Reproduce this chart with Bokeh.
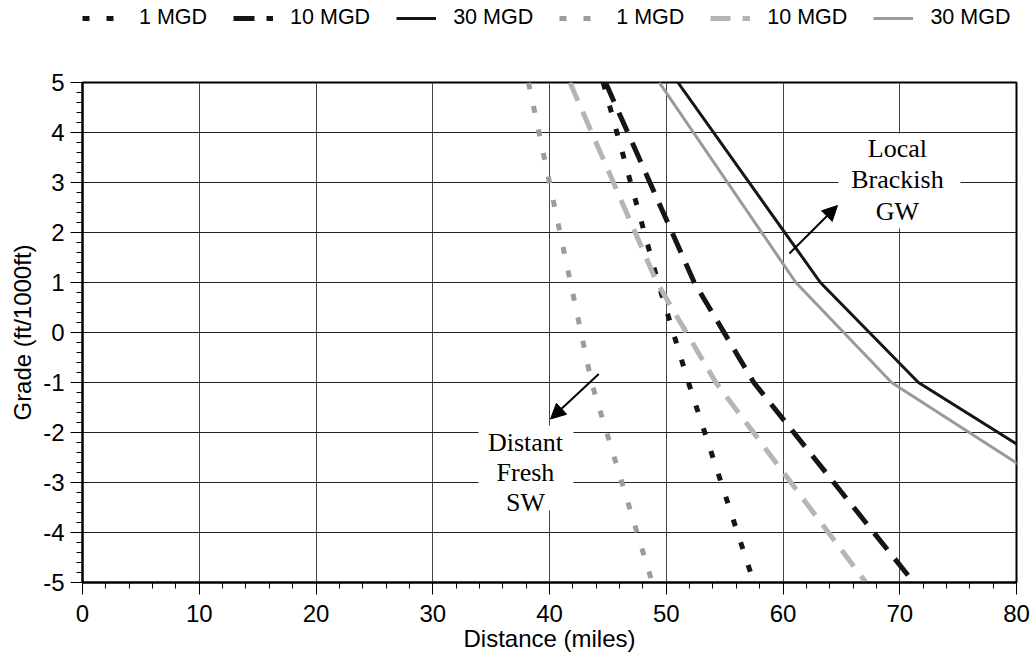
from bokeh.plotting import figure
from bokeh.layouts import column
from bokeh.models import (Range1d, FixedTicker, Legend, LegendItem, BoxAnnotation,
                          Label, Arrow, NormalHead)
from bokeh.embed import file_html
from bokeh.resources import INLINE

# ---- data (distance in miles at a given grade, ft/1000ft) ----
grade = [5, 1, -1, -5]
gw_1mgd = [44.6, 49.3, 51.9, 57.5]     # Local Brackish GW (black)
gw_10mgd = [44.8, 52.4, 57.5, 71.2]
gw_30mgd = [51.0, 63.2, 71.6, 98.9]
sw_1mgd = [38.2, 41.8, 43.6, 48.8]     # Distant Fresh SW (grey)
sw_10mgd = [41.75, 49.2, 54.25, 67.1]
sw_30mgd = [49.4, 61.1, 69.3, 95.9]
labels = ["1 MGD", "10 MGD", "30 MGD", "1 MGD", "10 MGD", "30 MGD"]
x_ticks = [0, 10, 20, 30, 40, 50, 60, 70, 80]
y_ticks = [-5, -4, -3, -2, -1, 0, 1, 2, 3, 4, 5]

FONT = "Liberation Sans"
SERIF = "Liberation Serif"

BLACK = "#151515"
GREY_DOT = "#9c9c9c"
GREY_DASH = "#b5b5b5"
GREY_SOLID = "#9a9a9a"
styles = [
    dict(line_color=BLACK, line_width=5, line_dash="7 17"),
    dict(line_color=BLACK, line_width=5, line_dash="21 12"),
    dict(line_color=BLACK, line_width=3),
    dict(line_color=GREY_DOT, line_width=5, line_dash="7 17"),
    dict(line_color=GREY_DASH, line_width=5, line_dash="20 12"),
    dict(line_color=GREY_SOLID, line_width=3),
]
series = [gw_1mgd, gw_10mgd, gw_30mgd, sw_1mgd, sw_10mgd, sw_30mgd]

LEG_H = 40
p = figure(width=1030, height=662 - LEG_H, x_range=Range1d(0, 80), y_range=Range1d(-5, 5),
           output_backend="svg", toolbar_location=None,
           min_border_left=82, min_border_right=14, min_border_top=82 - LEG_H,
           min_border_bottom=80)
p.background_fill_color = "white"
p.border_fill_color = "white"
p.outline_line_color = "black"
p.outline_line_width = 2

p.xaxis.ticker = FixedTicker(ticks=x_ticks, minor_ticks=list(range(0, 81, 2)))
p.yaxis.ticker = FixedTicker(ticks=y_ticks, minor_ticks=[i / 5 for i in range(-25, 26)])
p.xaxis.major_label_overrides = {t: str(t) for t in x_ticks}
p.yaxis.major_label_overrides = {t: str(t) for t in y_ticks}
for ax in (p.xaxis[0], p.yaxis[0]):
    ax.axis_line_color = "black"
    ax.axis_line_width = 2
    ax.major_tick_line_color = "black"
    ax.minor_tick_line_color = "black"
    ax.major_tick_out = 12
    ax.major_tick_in = 0
    ax.minor_tick_out = 6
    ax.minor_tick_in = 0
    ax.major_label_text_font = FONT
    ax.major_label_text_font_size = "24px"
    ax.major_label_text_color = "black"
    ax.axis_label_text_font = FONT
    ax.axis_label_text_font_size = "24px"
    ax.axis_label_text_font_style = "normal"
    ax.axis_label_text_color = "black"
p.xaxis.axis_label = "Distance (miles)"
p.yaxis.axis_label = "Grade (ft/1000ft)"
p.xaxis.major_label_standoff = 10
p.xaxis.axis_label_standoff = 0
p.yaxis.major_label_standoff = 6
p.yaxis.axis_label_standoff = 4

p.xgrid.grid_line_color = "#444444"
p.ygrid.grid_line_color = "#222222"
p.xgrid.grid_line_width = 1
p.ygrid.grid_line_width = 1

# white boxes behind annotation texts
p.add_layout(BoxAnnotation(left=64.75, right=75.2, bottom=2.08, top=3.98,
                           fill_color="white", fill_alpha=1, line_color=None, level="underlay"))
p.add_layout(BoxAnnotation(left=33.92, right=42.05, bottom=-3.56, top=-1.86,
                           fill_color="white", fill_alpha=1, line_color=None, level="underlay"))

for xs, st in zip(series, styles):
    p.line(xs, grade, **st)

# legend strip above the chart (same series and line styles; data lie outside this strip's range)
pl = figure(width=1030, height=LEG_H, x_range=Range1d(0, 1), y_range=Range1d(0, 1),
            output_backend="svg", toolbar_location=None, x_axis_type=None, y_axis_type=None,
            min_border=0)
pl.outline_line_color = None
pl.grid.visible = False
pl.background_fill_color = "white"
leg_renderers = [pl.line(xs, grade, **st) for xs, st in zip(series, styles)]
legend = Legend(items=[LegendItem(label=l, renderers=[r]) for l, r in zip(labels, leg_renderers)],
                orientation="horizontal", location=(0, 10),
                padding=0, margin=0, spacing=26, glyph_width=40, glyph_height=20,
                label_standoff=17, label_height=20,
                label_text_font=FONT, label_text_font_size="21.5px", label_text_color="black",
                border_line_color=None, background_fill_alpha=0)
pl.add_layout(legend)

for txt, y in zip(["Local", "Brackish", "GW"], [3.69, 3.07, 2.43]):
    p.add_layout(Label(x=69.8, y=y, text=txt, text_align="center", text_baseline="alphabetic",
                       text_font=SERIF, text_font_size="26px", text_color="black"))
for txt, y in zip(["Distant", "Fresh", "SW"], [-2.2, -2.8, -3.4]):
    p.add_layout(Label(x=37.94, y=y, text=txt, text_align="center", text_baseline="alphabetic",
                       text_font=SERIF, text_font_size="26px", text_color="black"))

p.add_layout(Arrow(end=NormalHead(size=15, fill_color="black", line_color="black"),
                   x_start=60.55, y_start=1.58, x_end=64.67, y_end=2.54,
                   line_width=2, line_color="black"))
p.add_layout(Arrow(end=NormalHead(size=15, fill_color="black", line_color="black"),
                   x_start=44.22, y_start=-0.83, x_end=40.09, y_end=-1.73,
                   line_width=2, line_color="black"))

layout = column(pl, p, spacing=0)
open("out.html", "w").write(file_html(layout, INLINE))
